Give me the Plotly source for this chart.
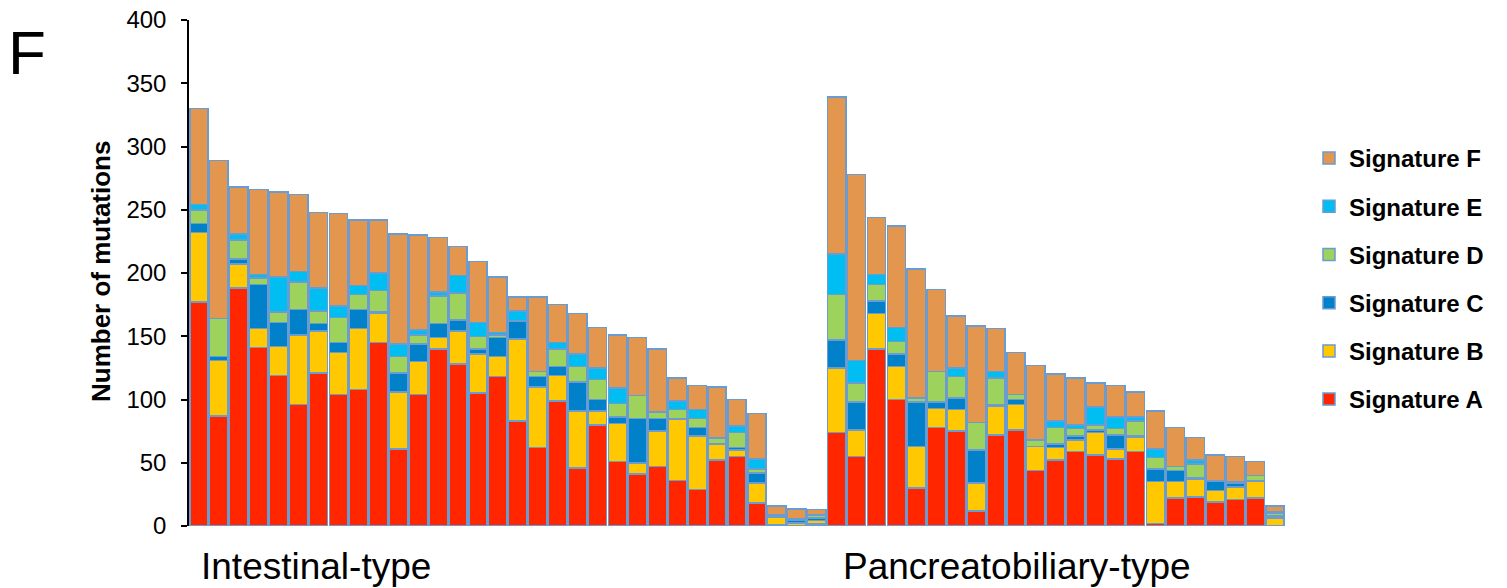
import plotly.graph_objects as go

samples = [f"I{i}" for i in range(1, 33)] + [f"P{i}" for i in range(1, 24)]

sig_A = [177, 87, 188, 141, 119, 96, 121, 104, 108, 145, 61, 104, 140, 128, 105, 118, 83, 62, 99, 46,
         80, 51, 41, 47, 36, 29, 52, 55, 18, 1, 0.5, 1.5,
         74, 55, 140, 100, 30, 78, 75, 12, 72, 76, 44, 52, 59, 56, 53, 59, 2, 22, 23, 19, 21, 22, 0]
sig_B = [55, 44, 19, 15, 23, 55, 33, 33, 48, 23, 45, 26, 9, 26, 31, 16, 65, 48, 20, 45,
         11, 30, 9, 28, 48, 42, 13, 5, 16, 6, 2, 3,
         51, 21, 28, 26, 33, 15, 17, 22, 23, 20, 19, 10, 9, 18, 8, 11, 33, 13, 14, 9, 10, 13, 6.5]
sig_C = [7, 3, 4, 35, 19, 20, 6, 8, 15, 1, 15, 14, 11, 9, 4, 15, 14, 8, 7, 23,
         9, 5, 35, 10, 1, 7, 0, 2, 8, 1, 2, 2,
         22, 22, 10, 10, 35, 5, 9, 26, 1, 4, 0, 3, 3, 2, 11, 1, 10, 9, 1, 7, 3, 1, 1.5]
sig_D = [11, 30, 15, 5, 8, 22, 10, 20, 12, 17, 13, 7, 22, 21, 10, 2, 0, 4, 14, 12,
         16, 11, 18, 5, 7, 7, 4, 12, 3, 1, 1, 2,
         36, 15, 13, 10, 3, 24, 17, 22, 21, 4, 5, 13, 6, 4, 5, 12, 9, 3, 11, 1, 1, 4, 2]
sig_E = [4, 0, 5, 3, 28, 8, 18, 9, 7, 14, 10, 4, 3, 14, 11, 2, 8, 0, 5, 10,
         9, 12, 0, 0, 7, 7, 1, 5, 8, 0, 0, 0.5,
         32, 18, 8, 11, 0, 0, 7, 0, 5, 0, 0, 5, 3, 14, 9, 3, 7, 0, 3, 0, 0, 0, 1]
sig_F = [76, 125, 37, 67, 67, 61, 60, 73, 52, 42, 87, 75, 43, 23, 48, 44, 11, 59, 30, 32,
         32, 42, 46, 50, 18, 19, 40, 21, 36, 7, 8, 4,
         124, 147, 45, 80, 102, 65, 41, 76, 34, 33, 59, 37, 37, 19, 25, 20, 30, 31, 18, 20, 20, 11, 5]

series = [
    ("Signature A", sig_A, "#FF2600"),
    ("Signature B", sig_B, "#FFC800"),
    ("Signature C", sig_C, "#0081C9"),
    ("Signature D", sig_D, "#9DD35C"),
    ("Signature E", sig_E, "#00BEF2"),
    ("Signature F", sig_F, "#E2964E"),
]

y_ticks = [0, 50, 100, 150, 200, 250, 300, 350, 400]
group_labels = ["Intestinal-type", "Pancreatobiliary-type"]

FONT = "Liberation Sans, Arial, Helvetica, sans-serif"

fig = go.Figure()
n = len(series)
for k, (name, vals, col) in enumerate(series):
    fig.add_trace(go.Bar(
        x=samples, y=vals, name=name, legendgroup=name, legendrank=n - k,
        marker=dict(color=col, line=dict(color="#6A9BD1", width=1.5)),
    ))

W, H = 1507, 588
L, R, T, B = 189, 222, 20, 62
pw = W - L - R
ph = H - T - B

def px_x(x):
    return (x - L) / pw

def px_y(y):
    return (H - B - y) / ph

fig.update_layout(
    width=W, height=H,
    margin=dict(l=L, r=R, t=T, b=B, pad=0, autoexpand=False),
    barmode="stack", bargap=0.08,
    plot_bgcolor="white", paper_bgcolor="white",
    font=dict(family=FONT, color="black"),
    xaxis=dict(showticklabels=False, ticks="", showgrid=False, zeroline=False,
               showline=False, range=[-0.5, len(samples) - 0.5], automargin=False),
    yaxis=dict(range=[0, 400], tickvals=y_ticks, ticktext=[str(v) for v in y_ticks],
               showgrid=False, zeroline=False, showline=True, linecolor="black", linewidth=1.5,
               ticks="outside", ticklen=6, tickwidth=1.5, tickcolor="black", automargin=False,
               tickfont=dict(size=24, family=FONT, color="black"), ticklabelstandoff=10),
    legend=dict(traceorder="grouped", tracegroupgap=14, x=px_x(1309), xanchor="left",
                y=px_y(136), yanchor="top", itemwidth=30,
                font=dict(size=24, family=FONT, color="black", weight="bold"),
                bgcolor="rgba(0,0,0,0)"),
    showlegend=True,
)

fig.add_annotation(text="Number of mutations", textangle=-90, x=px_x(101), y=px_y(272),
                   xref="paper", yref="paper", xanchor="center", yanchor="middle", showarrow=False,
                   font=dict(size=26, family=FONT, color="black", weight="bold"))
fig.add_annotation(text="F", x=px_x(27), y=px_y(53), xref="paper", yref="paper",
                   xanchor="center", yanchor="middle", showarrow=False,
                   font=dict(size=62, family=FONT, color="black"))
fig.add_annotation(text=group_labels[0], x=px_x(316), y=px_y(566), xref="paper", yref="paper",
                   xanchor="center", yanchor="middle", showarrow=False,
                   font=dict(size=37, family=FONT, color="black"))
fig.add_annotation(text=group_labels[1], x=px_x(1017), y=px_y(566), xref="paper", yref="paper",
                   xanchor="center", yanchor="middle", showarrow=False,
                   font=dict(size=37, family=FONT, color="black"))

fig.write_html("out.html")
